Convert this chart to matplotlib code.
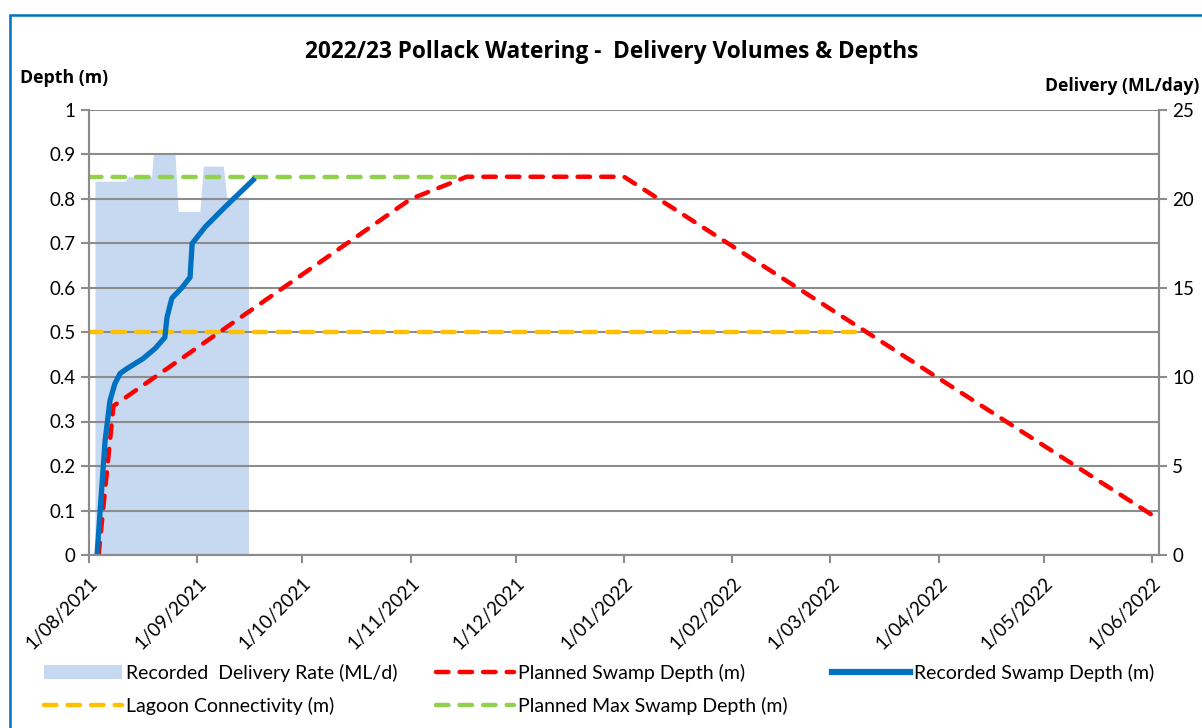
import datetime as dt
import matplotlib
matplotlib.use("Agg")
import matplotlib.pyplot as plt
from matplotlib.patches import Rectangle, Patch
from matplotlib.lines import Line2D

START = dt.datetime(2021, 8, 1)

# recorded swamp depth (m) - days after 1/08/2021
depth_days = [2.3, 4.6, 6.0, 7.4, 8.9, 10.9, 15.4, 18.9, 21.7, 22.3, 23.7, 26.6, 28.9, 29.5, 33.2, 38.9, 47.5]
depth_m = [0.0, 0.257, 0.347, 0.385, 0.408, 0.419, 0.441, 0.464, 0.489, 0.534, 0.577, 0.601, 0.624, 0.700, 0.737, 0.782, 0.847]

# recorded delivery rate (ML/day)
delivery_days = [1.7, 1.7, 10.3, 11.2, 17.9, 18.4, 24.6, 25.5, 31.7, 32.7, 38.4, 39.4, 45.6, 45.6]
delivery_ml = [0, 21.0, 21.0, 21.25, 21.25, 22.5, 22.5, 19.3, 19.3, 21.85, 21.85, 20.1, 20.1, 0]

planned_dates = ["2021-08-03 18:00", "2021-08-08 00:00", "2021-11-01 00:00", "2021-11-17 00:00",
                 "2022-01-01 00:00", "2022-06-03 00:00"]
planned_depth = [0.0, 0.335, 0.80, 0.85, 0.85, 0.08]

lagoon_dates = ["2021-08-01 00:00", "2022-03-11 00:00"]
lagoon_depth = [0.5, 0.5]

maxdepth_dates = ["2021-08-01 00:00", "2021-11-17 00:00"]
maxdepth_depth = [0.85, 0.85]

tick_months = [(2021, m) for m in range(8, 13)] + [(2022, m) for m in range(1, 7)]

plt.rcParams['font.family'] = ['Lato', 'DejaVu Sans']
BOLD = ['Open Sans', 'DejaVu Sans']

def days_to_dates(days):
    return [START + dt.timedelta(days=d) for d in days]

def parse(ds):
    return [dt.datetime.strptime(d, "%Y-%m-%d %H:%M") for d in ds]

fig = plt.figure(figsize=(12.02, 7.28), dpi=100)
ax = fig.add_axes([89/1202, 1-555/728, (1159-89)/1202, (555-110)/728])
ax2 = ax.twinx()
ax.set_zorder(ax2.get_zorder() + 1)
ax.patch.set_visible(False)

grey = "#8c8c8c"
area_c = "#c6d9f1"
DASH = (2.8, 2.5)
LW = 3.2

ax2.fill_between(days_to_dates(delivery_days), delivery_ml, 0, color=area_c, lw=0)
ax2.set_ylim(0, 25)
ax2.set_yticks(range(0, 26, 5))

dash_kw = dict(lw=LW, dashes=DASH, dash_capstyle="round")
ax.plot(parse(lagoon_dates), lagoon_depth, color="#ffc000", **dash_kw)
ax.plot(parse(maxdepth_dates), maxdepth_depth, color="#92d050", **dash_kw)
ax.plot(parse(planned_dates), planned_depth, color="#ff0000", **dash_kw)
ax.plot(days_to_dates(depth_days), depth_m, color="#0070c0", lw=3.8,
        solid_joinstyle="round", solid_capstyle="butt")

ax.set_ylim(0, 1)
ax.set_yticks([i / 10 for i in range(11)])
ax.set_yticklabels(["0"] + [f"{i/10:.1f}" for i in range(1, 10)] + ["1"])
ax.set_xlim(dt.datetime(2021, 8, 1), dt.datetime(2022, 6, 3))
ticks = [dt.datetime(y, m, 1) for y, m in tick_months]
ax.set_xticks(ticks)
ax.set_xticklabels([f"{d.day}/{d.month:02d}/{d.year}" for d in ticks], rotation=45,
                   ha="right", rotation_mode="anchor", fontsize=14)
ax.grid(axis="y", color=grey, lw=1.5)
ax.set_axisbelow(True)

for a in (ax, ax2):
    for s in a.spines.values():
        s.set_color(grey)
        s.set_linewidth(1.5)
    a.spines["top"].set_visible(False)
    a.tick_params(colors=grey, labelcolor="black", length=6, width=1.5, labelsize=13.5)
ax.tick_params(axis="x", pad=8)

fig.text(612/1202, 1-52/728, "2022/23 Pollack Watering -  Delivery Volumes & Depths",
         ha="center", va="center", fontsize=16.3, fontweight="bold", family=BOLD)
fig.text(20/1202, 1-78/728, "Depth (m)", ha="left", va="center", fontsize=12.8,
         fontweight="bold", family=BOLD)
fig.text(1045/1202, 1-86/728, "Delivery (ML/day)", ha="left", va="center", fontsize=12.6,
         fontweight="bold", family=BOLD)

# blue chart-area border
fig.patches.append(Rectangle((10/1202, -0.1), 1.2, 1 - 15/728 + 0.1, transform=fig.transFigure,
                             fill=False, edgecolor="#0070c0", lw=1.8))

leg_kw = dict(dashes=DASH, dash_capstyle="round", lw=LW)
columns = [
    ([Patch(facecolor=area_c, edgecolor="none"),
      Line2D([], [], color="#ffc000", **leg_kw)],
     ["Recorded  Delivery Rate (ML/d)", "Lagoon Connectivity (m)"], 44),
    ([Line2D([], [], color="#ff0000", **leg_kw),
      Line2D([], [], color="#92d050", **leg_kw)],
     ["Planned Swamp Depth (m)", "Planned Max Swamp Depth (m)"], 436),
    ([Line2D([], [], color="#0070c0", lw=4.5)],
     ["Recorded Swamp Depth (m)"], 832),
]
for hs, ls, x0 in columns:
    fig.legend(hs, ls, loc="upper left", bbox_to_anchor=(x0/1202, 1-664/728),
               frameon=False, fontsize=14, handlelength=4.0, handleheight=0.7,
               handletextpad=0.2, labelspacing=0.78, borderpad=0, borderaxespad=0)

fig.savefig("out.png", dpi=100)
